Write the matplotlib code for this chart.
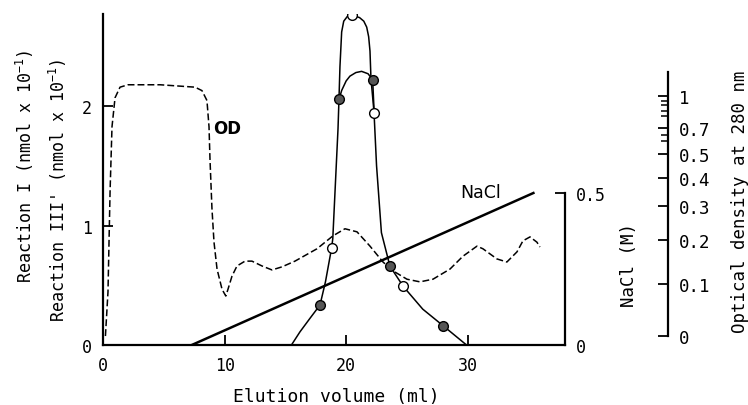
import numpy as np
import matplotlib.pyplot as plt
from matplotlib.ticker import FixedLocator

# Elution volume (ml) and activities (nmol x 10^-1)
react1_x = [18.8, 20.5, 22.3, 24.7]
react1_y = [0.81, 2.76, 1.94, 0.49]
react3_x = [17.85, 19.43, 22.18, 23.6, 27.99]
react3_y = [0.335, 2.06, 2.22, 0.66, 0.16]

# hand-drawn curve through the points
curve1_x = [15.5, 16.2, 17.0, 17.85, 18.3, 18.8, 18.9, 19.33, 19.41, 19.49, 19.63,
            19.8, 20.1, 20.5, 21.1, 21.45, 21.69, 21.85, 21.96, 22.04, 22.29, 22.5,
            22.9, 23.6, 24.7, 26.3, 27.99, 29.9]
curve1_y = [0.0, 0.11, 0.22, 0.335, 0.53, 0.81, 0.89, 1.81, 2.06, 2.33, 2.62,
            2.71, 2.75, 2.76, 2.74, 2.71, 2.66, 2.58, 2.46, 2.23, 1.95, 1.5,
            0.94, 0.66, 0.49, 0.30, 0.16, 0.0]
curve3_x = [19.43, 19.63, 20.0, 20.31, 20.8, 21.27, 21.8, 22.18, 22.3]
curve3_y = [2.06, 2.13, 2.21, 2.25, 2.28, 2.29, 2.27, 2.22, 1.95]

# NaCl gradient (M)
nacl_x = [7.3, 35.4]
nacl_y = [0.0, 0.5]

# Optical density at 280 nm
od_x = [0.2, 0.41, 0.58, 0.74, 0.99, 1.4, 2.06, 4.7, 7.57, 8.14, 8.55, 8.72, 8.8,
        8.96, 9.13, 9.38, 9.79, 10.1, 10.28, 10.61, 11.02, 11.68, 12.25, 13.08,
        13.9, 14.72, 15.79, 17.6, 18.91, 19.9, 20.89, 21.96, 23.03, 23.85, 25.0,
        26.07, 27.14, 28.54, 29.6, 30.76, 31.25, 32.4, 33.22, 34.05, 34.54, 35.12,
        35.69, 35.94]
od_y = [0.0, 0.085, 0.35, 0.71, 0.98, 1.11, 1.14, 1.14, 1.11, 1.067, 0.95, 0.71,
        0.478, 0.294, 0.195, 0.134, 0.09, 0.077, 0.09, 0.118, 0.141, 0.152, 0.152,
        0.141, 0.132, 0.139, 0.152, 0.18, 0.212, 0.233, 0.224, 0.186, 0.15, 0.13,
        0.111, 0.105, 0.111, 0.134, 0.163, 0.186, 0.18, 0.157, 0.15, 0.173, 0.198,
        0.209, 0.195, 0.184]

od_major = [0, 0.1, 0.2, 0.3, 0.4, 0.5, 0.7, 1]
od_major_labels = ["0", "0.1", "0.2", "0.3", "0.4", "0.5", "0.7", "1"]
od_minor = [0.6, 0.65, 0.8, 0.85, 0.9, 0.95]

# the OD axis of the original is a hand made non linear scale
od_knots = [-0.2, 0, 0.1, 0.2, 0.3, 0.4, 0.5, 0.6, 0.7, 0.8, 0.9, 1.0, 1.1, 1.2, 1.3, 5.0]
pos_knots = [-0.795, 0.075, 0.510, 0.879, 1.163, 1.397, 1.598, 1.707, 1.816, 1.916,
             2.008, 2.084, 2.151, 2.218, 2.285, 4.764]


def od_fwd(v):
    return np.interp(v, od_knots, pos_knots)


def od_inv(v):
    return np.interp(v, pos_knots, od_knots)


plt.rcParams['font.family'] = ['DejaVu Sans Mono']
plt.rcParams['mathtext.fontset'] = 'custom'
plt.rcParams['mathtext.rm'] = 'DejaVu Sans Mono'

fig = plt.figure(figsize=(7.48, 4.06), dpi=100)
ax = fig.add_axes([103 / 748, 60 / 406, 462 / 748, 331 / 406])
ax_na = ax.twinx()
ax_od = ax.twinx()
ax.set_zorder(3)
ax.patch.set_visible(False)

ymax = 2.77
ax.set_xlim(0, 38)
ax.set_ylim(0, ymax)
for s in ["top", "right"]:
    ax.spines[s].set_visible(False)
for s in ["left", "bottom"]:
    ax.spines[s].set_linewidth(1.6)
ax.set_xticks([0, 10, 20, 30])
ax.set_yticks([0, 1, 2])
ax.tick_params(direction="in", length=7, width=1.3, labelsize=12, pad=8)
ax.set_xlabel("Elution volume (ml)", fontsize=13)
ax.xaxis.label.set_va("center")
ax.xaxis.set_label_coords(0.506, -0.154)

# reaction curves
ax.plot(curve1_x, curve1_y, color="k", lw=1.1)
ax.plot(curve3_x, curve3_y, color="k", lw=1.1)
ax.plot(react1_x, react1_y, "o", ms=7, mfc="white", mec="k", mew=1.0)
ax.plot(react3_x, react3_y, "o", ms=7, mfc="#555555", mec="k", mew=1.0)

ax.text(9.05, 1.82, "OD", fontsize=12, fontweight="bold", family="DejaVu Sans",
        ha="left", va="center")
ax.text(31.1, 1.28, "NaCl", fontsize=12.5, family="DejaVu Sans",
        ha="center", va="center")

# NaCl axis
ax_na.set_ylim(0, 0.5 * 331 / 152)
for s in ["top", "left", "bottom"]:
    ax_na.spines[s].set_visible(False)
ax_na.spines["right"].set_bounds(0, 0.5)
ax_na.spines["right"].set_linewidth(1.6)
ax_na.set_yticks([0, 0.5])
ax_na.set_yticklabels(["0", "0.5"])
ax_na.tick_params(direction="in", length=7, width=1.3, labelsize=12, pad=8)
ax_na.plot(nacl_x, nacl_y, color="k", lw=1.8)
ax_na.set_ylabel("NaCl (M)", fontsize=12.5)
ax_na.yaxis.set_label_coords(1.118, 0.245)

# OD axis
ax_od.set_yscale("function", functions=(od_fwd, od_inv))
ax_od.set_ylim(float(od_inv(0.0)), float(od_inv(ymax)))
for s in ["top", "left", "bottom"]:
    ax_od.spines[s].set_visible(False)
ax_od.spines["right"].set_position(("axes", 1.223))
ax_od.spines["right"].set_bounds(0, 1.3)
ax_od.spines["right"].set_linewidth(1.6)
ax_od.yaxis.set_major_locator(FixedLocator(od_major))
ax_od.yaxis.set_minor_locator(FixedLocator(od_minor))
ax_od.set_yticklabels(od_major_labels)
ax_od.yaxis.set_minor_formatter(plt.NullFormatter())
ax_od.tick_params(which="major", direction="in", length=7, width=1.3, labelsize=12.5, pad=8)
ax_od.tick_params(which="minor", direction="in", length=5, width=1.1)
ax_od.plot(od_x, od_y, color="k", lw=1.1, ls=(0, (4.5, 2)))
ax_od.set_ylabel("Optical density at 280 nm", fontsize=12.5)
ax_od.yaxis.set_label_coords(1.359, 0.435)

# left axis titles
fig.text(25 / 748, 1 - 166 / 406, "Reaction I (nmol x 10$^{-1}$)", rotation=90,
         ha="center", va="center", fontsize=12)
fig.text(58 / 748, 1 - 190 / 406, "Reaction III' (nmol x 10$^{-1}$)", rotation=90,
         ha="center", va="center", fontsize=12)

fig.savefig("out.png", dpi=100)
